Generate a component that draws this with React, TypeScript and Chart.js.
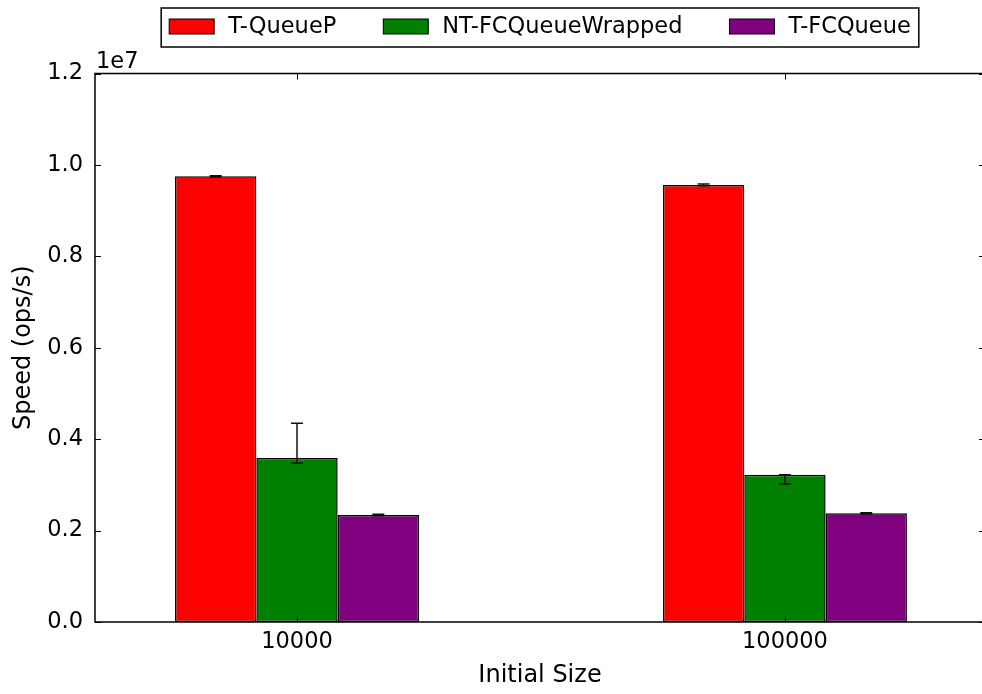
import React, { useEffect, useRef } from 'react';
import { Chart, registerables } from 'chart.js';

Chart.register(...registerables);

// Initial queue sizes (categories) and their positions on the x axis
const sizeLabels = ['10000', '100000'];
const sizePositions = [0, 1];

// Series
const seriesNames = ['T-QueueP', 'NT-FCQueueWrapped', 'T-FCQueue'];
const seriesColors = ['#ff0000', '#008000', '#800080'];

// Mean throughput (ops/s)
const tQueueP = [9750000, 9560000];
const ntFCQueueWrapped = [3590000, 3220000];
const tFCQueue = [2340000, 2380000];

// Error bar ranges (low / high), ops/s
const tQueuePLow = [9735000, 9545000];
const tQueuePHigh = [9765000, 9580000];
const ntFCQueueWrappedLow = [3480000, 3020000];
const ntFCQueueWrappedHigh = [4350000, 3220000];
const tFCQueueLow = [2325000, 2365000];
const tFCQueueHigh = [2355000, 2390000];

// Y axis ticks
const yMin = 0;
const yMax = 12000000;
const yStep = 2000000;

const seriesValues = [tQueueP, ntFCQueueWrapped, tFCQueue];
const seriesLow = [tQueuePLow, ntFCQueueWrappedLow, tFCQueueLow];
const seriesHigh = [tQueuePHigh, ntFCQueueWrappedHigh, tFCQueueHigh];

const FONT = 'DejaVu Sans';

const errorBarPlugin = {
  id: 'errorBars',
  afterDatasetsDraw(chart: any) {
    const ctx = chart.ctx;
    const y = chart.scales.y;
    chart.data.datasets.forEach((_ds: any, i: number) => {
      const meta = chart.getDatasetMeta(i);
      meta.data.forEach((el: any, j: number) => {
        const x = el.x;
        const yl = y.getPixelForValue(seriesLow[i][j]);
        const yh = y.getPixelForValue(seriesHigh[i][j]);
        ctx.save();
        ctx.strokeStyle = '#111';
        ctx.lineWidth = 1.5;
        ctx.beginPath();
        ctx.moveTo(x, yl);
        ctx.lineTo(x, yh);
        ctx.moveTo(x - 6, yl);
        ctx.lineTo(x + 6, yl);
        ctx.moveTo(x - 6, yh);
        ctx.lineTo(x + 6, yh);
        ctx.stroke();
        ctx.restore();
      });
    });
  },
};

const framePlugin = {
  id: 'frame',
  afterDraw(chart: any) {
    const ctx = chart.ctx;
    const { left, right, top, bottom } = chart.chartArea;
    const xs = chart.scales.x;
    const ys = chart.scales.y;
    const tick = 6;
    ctx.save();
    ctx.strokeStyle = '#000';
    ctx.lineWidth = 1.5;
    // left, top and bottom spines; the right spine lies just past the visible edge
    ctx.beginPath();
    ctx.moveTo(right, top);
    ctx.lineTo(left, top);
    ctx.lineTo(left, bottom);
    ctx.lineTo(right, bottom);
    ctx.stroke();
    ctx.lineWidth = 1;
    ctx.beginPath();
    ys.ticks.forEach((t: any) => {
      const py = Math.round(ys.getPixelForValue(t.value)) + 0.5;
      ctx.moveTo(left, py);
      ctx.lineTo(left + tick, py);
      ctx.moveTo(right, py);
      ctx.lineTo(right - tick, py);
    });
    xs.ticks.forEach((t: any) => {
      const px = Math.round(xs.getPixelForValue(t.value)) + 0.5;
      ctx.moveTo(px, bottom);
      ctx.lineTo(px, bottom - tick);
      ctx.moveTo(px, top);
      ctx.lineTo(px, top + tick);
    });
    ctx.stroke();

    // Offset text for the y axis
    ctx.fillStyle = '#000';
    ctx.font = `22.5px "${FONT}"`;
    ctx.textAlign = 'left';
    ctx.textBaseline = 'alphabetic';
    ctx.fillText('1e7', left + 1, top - 6);

    // Legend above the plot
    const fs = 22.5;
    ctx.font = `${fs}px "${FONT}"`;
    const pad = 8;
    const swW = 45;
    const swH = 15;
    const textPad = 14;
    const colGap = 47;
    const widths = seriesNames.map((n) => ctx.measureText(n).width);
    let total = pad * 2;
    widths.forEach((w, i) => {
      total += swW + textPad + w + (i < widths.length - 1 ? colGap : 0);
    });
    const cx = (left + right) / 2;
    const boxLeft = cx - total / 2;
    const boxTop = 8;
    const boxH = 39;
    const midY = boxTop + boxH / 2;
    ctx.fillStyle = '#fff';
    ctx.fillRect(boxLeft, boxTop, total, boxH);
    ctx.lineWidth = 1.5;
    ctx.strokeStyle = '#000';
    ctx.strokeRect(boxLeft, boxTop, total, boxH);
    let xPos = boxLeft + pad;
    seriesNames.forEach((n, i) => {
      ctx.fillStyle = seriesColors[i];
      ctx.fillRect(xPos, midY - swH / 2 - 1, swW, swH);
      ctx.lineWidth = 1;
      ctx.strokeStyle = '#000';
      ctx.strokeRect(xPos, midY - swH / 2 - 1, swW, swH);
      xPos += swW + textPad;
      ctx.fillStyle = '#000';
      ctx.textAlign = 'left';
      ctx.textBaseline = 'middle';
      ctx.fillText(n, xPos, midY);
      xPos += widths[i] + colGap;
    });
    ctx.restore();
  },
};

export default function App() {
  const canvasRef = useRef<HTMLCanvasElement | null>(null);

  useEffect(() => {
    const canvas = canvasRef.current;
    if (!canvas) return;
    const tickFont = { family: FONT, size: 22.5 };
    const titleFont = { family: FONT, size: 24 };
    const chart = new Chart(canvas, {
      type: 'bar',
      data: {
        datasets: seriesNames.map((name, i) => ({
          label: name,
          data: sizePositions.map((x, j) => ({ x, y: seriesValues[i][j] })),
          backgroundColor: seriesColors[i],
          borderColor: '#000',
          borderWidth: 1.5,
          borderSkipped: false,
          categoryPercentage: 0.5,
          barPercentage: 1,
        })),
      },
      options: {
        animation: false,
        responsive: false,
        devicePixelRatio: 1,
        layout: { padding: { top: 73.5, right: 15, left: 0, bottom: 0 } },
        plugins: { legend: { display: false }, tooltip: { enabled: false } },
        scales: {
          x: {
            type: 'linear',
            min: -0.414,
            max: 1.41,
            offset: false,
            grid: { display: false, drawTicks: false, offset: false },
            border: { display: false },
            afterBuildTicks: (s: any) => {
              s.ticks = sizePositions.map((v) => ({ value: v }));
            },
            afterFit: (s: any) => {
              s.height = 72;
            },
            ticks: {
              callback: (v: any) => {
                const k = sizePositions.indexOf(Number(v));
                return k >= 0 ? sizeLabels[k] : '';
              },
              font: tickFont,
              color: '#000',
              padding: 7,
              maxRotation: 0,
              autoSkip: false,
            },
            title: {
              display: true,
              text: 'Initial Size',
              font: titleFont,
              color: '#000',
              padding: { top: 0, bottom: 3.5 },
            },
          },
          y: {
            min: yMin,
            max: yMax,
            grid: { display: false, drawTicks: false },
            border: { display: false },
            afterFit: (s: any) => {
              s.width = 95;
            },
            ticks: {
              stepSize: yStep,
              callback: (v: any) => (Number(v) / 1e7).toFixed(1),
              font: tickFont,
              color: '#000',
              padding: 12,
            },
            title: {
              display: true,
              text: 'Speed (ops/s)',
              font: titleFont,
              color: '#000',
              padding: { top: 9.5, bottom: 0 },
            },
          },
        },
      } as any,
      plugins: [errorBarPlugin, framePlugin],
    });
    return () => chart.destroy();
  }, []);

  return (
    <div
      style={{
        position: 'fixed',
        left: 0,
        top: 0,
        width: 982,
        height: 694,
        overflow: 'hidden',
        background: '#fff',
      }}
    >
      <canvas ref={canvasRef} width={1000} height={694} style={{ width: 1000, height: 694, display: 'block' }} />
    </div>
  );
}
